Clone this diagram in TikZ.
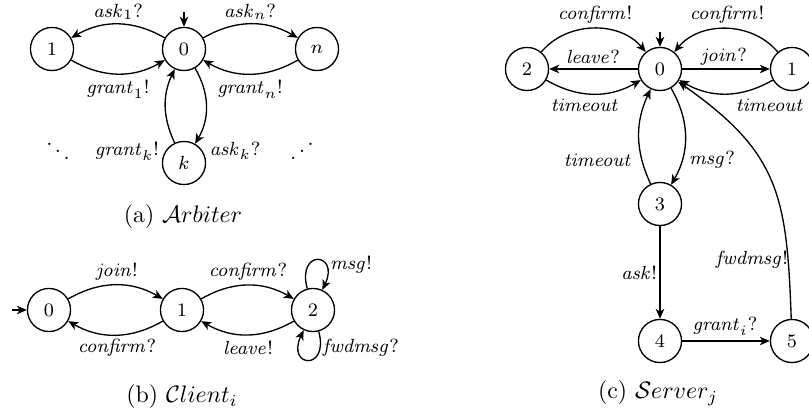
\documentclass[tikz,border=0pt]{standalone}
\usepackage{graphicx}
\usetikzlibrary{arrows.meta}
\begin{document}
\begin{tikzpicture}[x=0.42pt,y=0.42pt,
  st/.style={circle,draw,line width=0.56pt,minimum size=18.1pt,inner sep=0pt,font=\footnotesize},
  tr/.style={-{Stealth[length=4.2pt,width=3.6pt,inset=1.2pt]},line width=0.56pt},
  lb/.style={font=\footnotesize,inner sep=0pt},
  capt/.style={font=\normalsize,inner sep=0pt}]
\useasboundingbox (0,0) rectangle (809,-412);
% ---------- Arbiter ----------
\node[st] (a0) at (184,-49) {$0$};
\node[st] (a1) at (52,-49) {$1$};
\node[st] (an) at (317,-49) {$n$};
\node[st] (ak) at (184,-163) {$k$};
\coordinate (ai) at (184,-12);
\draw[tr] (ai) -- (a0);
\draw[tr] (a0) to[out=150,in=30] (a1);
\draw[tr] (a1) to[out=-30,in=-150] (a0);
\draw[tr] (a0) to[out=30,in=150] (an);
\draw[tr] (an) to[out=-150,in=-30] (a0);
\draw[tr] (a0) to[out=-60,in=60] (ak);
\draw[tr] (ak) to[out=115,in=-115] (a0);
\node[lb] (la1) at (118,-12) {$\mathit{ask}_1?$};
\node[lb] (lan) at (250,-12) {$\mathit{ask}_n?$};
\node[lb] (lg1) at (118,-89) {$\mathit{grant}_1!$};
\node[lb] (lgn) at (250,-89) {$\mathit{grant}_n!$};
\node[lb] (lgk) at (127,-151) {$\mathit{grant}_k!$};
\node[lb] (lak) at (235,-151) {$\mathit{ask}_k?$};
\node[lb,font=\small] (dl) at (58,-144) {$\ddots$};
\node[lb,font=\small] (dr) at (302,-144) {\reflectbox{$\ddots$}};
\node[capt] (capa) at (183,-217) {(a) $\mathcal{A}rbiter$};
% ---------- Client ----------
\node[st] (c0) at (49,-310) {$0$};
\node[st] (c1) at (182,-310) {$1$};
\node[st] (c2) at (313,-310) {$2$};
\coordinate (ci) at (12,-310);
\draw[tr] (ci) -- (c0);
\draw[tr] (c0) to[out=30,in=150] (c1);
\draw[tr] (c1) to[out=-150,in=-30] (c0);
\draw[tr] (c1) to[out=30,in=150] (c2);
\draw[tr] (c2) to[out=-150,in=-30] (c1);
\draw[tr] (c2) to[out=105,in=65,looseness=7] (c2);
\draw[tr] (c2) to[out=-75,in=-115,looseness=7] (c2);
\node[lb] (lj) at (117,-272) {$\mathit{join}!$};
\node[lb] (lc1) at (117,-348) {$\mathit{confirm}?$};
\node[lb] (lc2) at (248,-272) {$\mathit{confirm}?$};
\node[lb] (ll) at (248,-348) {$\mathit{leave}!$};
\node[lb] (lm) at (351,-265) {$\mathit{msg}!$};
\node[lb] (lf) at (361,-348) {$\mathit{fwdmsg}?$};
\node[capt] (capb) at (182,-397) {(b) $\mathcal{C}lient_i$};
% ---------- Server ----------
\node[st] (s0) at (660,-69) {$0$};
\node[st] (s2) at (527,-69) {$2$};
\node[st] (s1) at (792,-69) {$1$};
\node[st] (s3) at (660,-204) {$3$};
\node[st] (s4) at (660,-341) {$4$};
\node[st] (s5) at (792,-341) {$5$};
\coordinate (si) at (660,-32);
\draw[tr] (si) -- (s0);
\draw[tr] (s0) -- (s2);
\draw[tr] (s2) to[out=50,in=130] (s0);
\draw[tr] (s2) to[out=-30,in=-150] (s0);
\draw[tr] (s0) -- (s1);
\draw[tr] (s1) to[out=130,in=50] (s0);
\draw[tr] (s1) to[out=-150,in=-30] (s0);
\draw[tr] (s0) to[out=-60,in=60] (s3);
\draw[tr] (s3) to[out=115,in=-115] (s0);
\draw[tr] (s3) -- (s4);
\draw[tr] (s4) -- (s5);
\draw[tr] (s5) to[out=92,in=-35,looseness=1.2] (s0);
\node[lb] (lsc2) at (595,-15) {$\mathit{confirm}!$};
\node[lb] (lsc1) at (727,-15) {$\mathit{confirm}!$};
\node[lb] (lsl) at (593,-57) {$\mathit{leave}?$};
\node[lb] (lsj) at (724,-57) {$\mathit{join}?$};
\node[lb] (lst2) at (585,-105) {$\mathit{timeout}$};
\node[lb] (lst1) at (770,-105) {$\mathit{timeout}$};
\node[lb] (lst3) at (598,-160) {$\mathit{timeout}$};
\node[lb] (lsm) at (712,-160) {$\mathit{msg}?$};
\node[lb] (lsa) at (639,-273) {$\mathit{ask}!$};
\node[lb] (lsf) at (752,-260) {$\mathit{fwdmsg}!$};
\node[lb] (lsg) at (725,-326) {$\mathit{grant}_i?$};
\node[capt] (capc) at (658,-393) {(c) $\mathcal{S}erver_j$};
\end{tikzpicture}
\end{document}
